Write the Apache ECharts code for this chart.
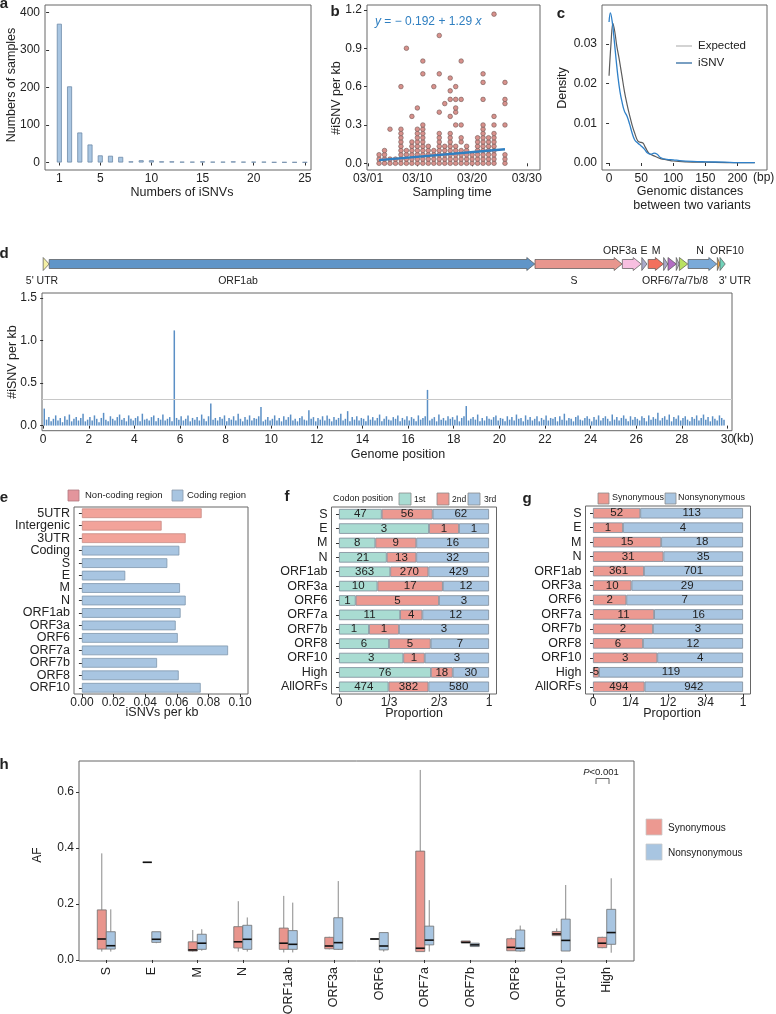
<!DOCTYPE html>
<html lang="en">
<head>
<meta charset="UTF-8">
<title>iSNV summary</title>
<script src="https://cdn.jsdelivr.net/npm/echarts@6/dist/echarts.min.js"></script>
<style>
    body { margin: 0; padding: 0; background: #fff; }
    #main { width: 776px; height: 1014px; }
</style>
</head>
<body>
<div id="main"></div>
<script type="text/javascript">
var FONT = '"Liberation Sans", Arial, sans-serif';

// ---- a: samples by number of iSNVs
var aIsnvs = [1,2,3,4,5,6,7,8,9,10,11,12,13,14,15,16,17,18,19,20,21,22,23,24,25];
var aSamples = [370,203,80,48,19,18,15,3,6,6,3,3,2,2,3,2,2,3,2,2,2,1,1,1,1];

// ---- b: iSNV per kb by sampling day (March)
var bDays = [3,4,5,6,7,8,9,10,11,12,13,14,15,16,17,18,19,20,21,22,23,24,26];
var bRates = [
    [0,0.033,0.067],
    [0,0.033,0.067,0.1],
    [0,0.033,0.267],
    [0,0.033],
    [0,0.033,0.067,0.1,0.133,0.167,0.2,0.233,0.267,0.6],
    [0,0.033,0.067,0.1,0.9],
    [0,0.033,0.067,0.1,0.133,0.167,0.367],
    [0,0.033,0.067,0.1,0.133,0.167,0.2,0.233,0.267,0.433],
    [0,0.033,0.067,0.1,0.133,0.167,0.2,0.233,0.267,0.3,0.7,0.8],
    [0,0.033,0.067,0.1,0.133],
    [0,0.033,0.067,0.1,0.6],
    [0,0.033,0.067,0.1,0.133,0.167,0.2,0.233,0.4,0.7,1.0],
    [0,0.033,0.067,0.1,0.133,0.467],
    [0,0.033,0.067,0.1,0.133,0.167,0.2,0.233,0.367,0.5,0.567,0.667],
    [0,0.033,0.067,0.1,0.133,0.3,0.4,0.433,0.5,0.6],
    [0,0.033,0.067,0.1,0.167,0.2,0.3,0.5,0.8],
    [0,0.033,0.067,0.1,0.133],
    [0,0.033,0.067],
    [0,0.033,0.067,0.1,0.133,0.167,0.2],
    [0,0.033,0.067,0.1,0.133,0.167,0.2,0.233,0.267,0.3,0.5,0.633,0.7],
    [0,0.033,0.067,0.1,0.133,0.167,0.2],
    [0,0.033,0.067,0.1,0.133,0.167,0.2,0.233,0.3,0.367,1.167],
    [0,0.033,0.067,0.3,0.467,0.5,0.633]
];
var bFitDays = [3, 26];
var bFitRates = [0.025, 0.11];

// ---- c: density of distances between variants
var cIsnvX = [0,2,5,8,11,14,17,20,24,28,32,36,40,45,50,55,60,65,70,75,80,90,100,110,130,150,180,200,227];
var cIsnvY = [0.0355,0.0378,0.0355,0.031,0.026,0.0215,0.018,0.0155,0.013,0.0118,0.0098,0.0075,0.0058,0.005,0.0043,0.0035,0.0025,0.0022,0.0025,0.0022,0.0014,0.0009,0.0008,0.0006,0.0004,0.0003,0.0002,0.0001,0.0001];
var cExpX = [0,3,6,9,12,16,20,24,28,32,36,40,45,50,53,57,62,70,80,90,100,120,150,200,227];
var cExpY = [0.022,0.030,0.0352,0.033,0.0295,0.026,0.022,0.018,0.0148,0.012,0.0095,0.0075,0.0055,0.0052,0.005,0.0038,0.0025,0.0018,0.0011,0.0008,0.0005,0.0003,0.0002,0.0001,0.0001];

// ---- d: genome map (kb) and iSNV per kb in 100 bp windows
var geneNames = ['5UTR','ORF1ab','S','ORF3a','E','M','ORF6','ORF7a','ORF7b','ORF8','N','ORF10','3UTR'];
var geneStart = [0.001,0.266,21.563,25.393,26.245,26.523,27.202,27.394,27.756,27.894,28.274,29.558,29.675];
var geneEnd   = [0.265,21.555,25.384,26.220,26.472,27.191,27.387,27.759,27.887,28.259,29.533,29.674,29.903];
var dRate = [
    0.20,0.07,0.10,0.05,0.08,0.12,0.06,0.09,0.04,0.11,0.07,0.13,0.05,0.08,0.10,0.06,0.09,0.14,0.05,0.07,
    0.10,0.06,0.12,0.08,0.04,0.09,0.15,0.07,0.05,0.11,0.08,0.06,0.10,0.13,0.07,0.09,0.05,0.12,0.08,0.06,
    0.09,0.11,0.05,0.14,0.07,0.08,0.06,0.10,0.12,0.05,0.09,0.07,0.13,0.06,0.08,0.10,0.05,1.12,0.09,0.07,
    0.11,0.06,0.08,0.12,0.05,0.09,0.07,0.10,0.06,0.13,0.08,0.05,0.11,0.26,0.07,0.09,0.06,0.10,0.08,0.12,
    0.05,0.09,0.07,0.11,0.06,0.14,0.08,0.05,0.10,0.07,0.12,0.06,0.09,0.08,0.11,0.22,0.05,0.07,0.10,0.06,
    0.08,0.12,0.06,0.09,0.05,0.11,0.07,0.10,0.13,0.06,0.08,0.05,0.09,0.11,0.07,0.06,0.18,0.08,0.10,0.05,
    0.09,0.07,0.11,0.06,0.12,0.08,0.05,0.10,0.07,0.09,0.14,0.06,0.08,0.17,0.05,0.10,0.07,0.11,0.06,0.09,
    0.08,0.05,0.12,0.07,0.10,0.06,0.09,0.13,0.05,0.08,0.11,0.07,0.06,0.10,0.08,0.12,0.05,0.09,0.07,0.11,
    0.06,0.10,0.08,0.05,0.12,0.07,0.09,0.11,0.42,0.06,0.08,0.10,0.05,0.13,0.07,0.09,0.06,0.11,0.08,0.10,
    0.07,0.12,0.05,0.09,0.11,0.23,0.06,0.08,0.10,0.07,0.13,0.05,0.09,0.06,0.11,0.08,0.07,0.10,0.12,0.06,
    0.09,0.08,0.05,0.11,0.07,0.10,0.06,0.13,0.08,0.09,0.05,0.12,0.07,0.10,0.06,0.08,0.11,0.05,0.09,0.07,
    0.12,0.06,0.09,0.08,0.10,0.05,0.11,0.07,0.14,0.06,0.09,0.08,0.05,0.10,0.12,0.07,0.06,0.09,0.11,0.08,
    0.05,0.10,0.07,0.12,0.06,0.09,0.11,0.08,0.05,0.13,0.07,0.10,0.06,0.09,0.12,0.08,0.05,0.11,0.07,0.10,
    0.08,0.06,0.11,0.09,0.05,0.12,0.07,0.10,0.08,0.15,0.06,0.09,0.11,0.07,0.13,0.05,0.10,0.08,0.12,0.06,
    0.09,0.11,0.07,0.05,0.10,0.08,0.12,0.06,0.09,0.13,0.07,0.10,0.05,0.11,0.08,0.06,0.12,0.09,0.07
];
var dThreshold = 0.31;

// ---- e: iSNVs per kb by region
var eRegions = ['5UTR','Intergenic','3UTR','Coding','S','E','M','N','ORF1ab','ORF3a','ORF6','ORF7a','ORF7b','ORF8','ORF10'];
var eRate = [0.0757,0.0504,0.0656,0.0616,0.054,0.0274,0.062,0.0656,0.0624,0.0593,0.0606,0.0924,0.0475,0.0612,0.0751];
var eNonCoding = ['5UTR','Intergenic','3UTR'];

// ---- f: codon position counts
var fGenes = ['S','E','M','N','ORF1ab','ORF3a','ORF6','ORF7a','ORF7b','ORF8','ORF10','High','AllORFs'];
var fFirst  = [47,3,8,21,363,10,1,11,1,6,3,76,474];
var fSecond = [56,1,9,13,270,17,5,4,1,5,1,18,382];
var fThird  = [62,1,16,32,429,12,3,12,3,7,3,30,580];

// ---- g: synonymous / nonsynonymous counts
var gGenes = fGenes;
var gSyn    = [52,1,15,31,361,10,2,11,2,6,3,5,494];
var gNonsyn = [113,4,18,35,701,29,7,16,3,12,4,119,942];

// ---- h: allele frequency boxes [low whisker, q1, median, q3, high whisker]
var hGenes = ['S','E','M','N','ORF1ab','ORF3a','ORF6','ORF7a','ORF7b','ORF8','ORF10','High'];
var hSyn = [
    [0.030,0.039,0.075,0.179,0.381],
    [0.349,0.349,0.349,0.349,0.349],
    [0.030,0.032,0.036,0.065,0.107],
    [0.030,0.043,0.065,0.119,0.210],
    [0.027,0.038,0.060,0.114,0.229],
    [0.038,0.040,0.050,0.081,0.083],
    [0.075,0.075,0.075,0.075,0.075],
    [0.030,0.030,0.042,0.389,0.679],
    [0.061,0.061,0.063,0.068,0.068],
    [0.033,0.033,0.045,0.076,0.080],
    [0.086,0.087,0.093,0.102,0.113],
    [0.042,0.044,0.060,0.081,0.083]
];
var hNonsyn = [
    [0.030,0.039,0.051,0.101,0.181],
    [0.060,0.063,0.074,0.101,0.101],
    [0.033,0.038,0.060,0.092,0.110],
    [0.030,0.038,0.074,0.124,0.152],
    [0.027,0.038,0.056,0.105,0.205],
    [0.036,0.038,0.062,0.151,0.282],
    [0.030,0.036,0.050,0.098,0.098],
    [0.030,0.054,0.071,0.121,0.214],
    [0.048,0.048,0.054,0.060,0.060],
    [0.030,0.032,0.042,0.107,0.123],
    [0.032,0.032,0.070,0.146,0.268],
    [0.026,0.056,0.098,0.181,0.292]
];

// colours
var geneColors = {
    '5UTR': '#f4efa4', 'ORF1ab': '#6095c8', 'S': '#e8968e', 'ORF3a': '#f7bfe0', 'E': '#aaaacb',
    'M': '#f2705d', 'ORF6': '#aaaacb', 'ORF7a': '#b36ec4', 'ORF7b': '#b8b8c8', 'ORF8': '#b9e262',
    'N': '#7aaad9', 'ORF10': '#f2a443', '3UTR': '#72d3ba'
};
var RED = '#ec9991', BLUE = '#a8c5e1', TEAL = '#a9dcd2';

var myChart = echarts.init(document.getElementById('main'), null, {renderer: 'canvas'});

function grid(l, t, w, h, border) {
    return {left: l, top: t, width: w, height: h, show: border !== false, borderColor: '#666', borderWidth: 1,
        backgroundColor: 'transparent', containLabel: false, outerBoundsMode: 'none'};
}
function valAxis(gi, min, max, ticks, fmt, margin) {
    return {
        type: 'value', gridIndex: gi, min: min, max: max,
        splitLine: {show: false},
        axisLine: {show: false},
        axisTick: {show: true, length: 3, lineStyle: {color: '#333'}, customValues: ticks},
        axisLabel: {color: '#222', fontSize: 12, fontFamily: FONT, margin: margin || 5, customValues: ticks, formatter: fmt}
    };
}
function catAxis(gi, data) {
    return {
        type: 'category', gridIndex: gi, data: data, inverse: true,
        axisLine: {show: false},
        axisTick: {show: true, length: 3, alignWithLabel: true, interval: 0, lineStyle: {color: '#333'}},
        axisLabel: {color: '#222', fontSize: 12.5, fontFamily: FONT, margin: 4, interval: 0}
    };
}
function hiddenAxis(gi, min, max) {
    return {type: 'value', gridIndex: gi, min: min, max: max, show: false};
}
function fixed(n) { return function (v) { return v.toFixed(n); }; }

// flatten b
var bPoints = [];
bDays.forEach(function (d, i) {
    bRates[i].forEach(function (r) { bPoints.push([d, r]); });
});

function zip(xs, ys) { return xs.map(function (x, i) { return [x, ys[i]]; }); }

// gene arrows
function renderGene(params, api) {
    var p0 = api.coord([api.value(0), 0.5]);
    var p1 = api.coord([api.value(1), 0.5]);
    var y = p0[1], x0 = p0[0], x1 = p1[0];
    var bh = 4.5, hh = 6.5, head = Math.min(8, x1 - x0);
    var pts;
    if (x1 - x0 <= head + 1) {
        pts = [[x0, y - hh], [x1, y], [x0, y + hh]];
    } else {
        pts = [[x0, y - bh], [x1 - head, y - bh], [x1 - head, y - hh], [x1, y],
               [x1 - head, y + hh], [x1 - head, y + bh], [x0, y + bh]];
    }
    return {type: 'polygon', shape: {points: pts},
        style: {fill: geneColors[geneNames[params.dataIndex]], stroke: '#555', lineWidth: 0.7}};
}

// boxplots
function boxRenderer(offset, fill) {
    return function (params, api) {
        var x = api.value(0);
        var lo = api.coord([x, api.value(1)]);
        var q1 = api.coord([x, api.value(2)]);
        var md = api.coord([x, api.value(3)]);
        var q3 = api.coord([x, api.value(4)]);
        var hi = api.coord([x, api.value(5)]);
        var cx = lo[0] + offset, hw = 4.5;
        return {type: 'group', children: [
            {type: 'line', shape: {x1: cx, y1: hi[1], x2: cx, y2: q3[1]}, style: {stroke: '#8a8a8a', lineWidth: 1}},
            {type: 'line', shape: {x1: cx, y1: q1[1], x2: cx, y2: lo[1]}, style: {stroke: '#8a8a8a', lineWidth: 1}},
            {type: 'rect', shape: {x: cx - hw, y: q3[1], width: hw * 2, height: q1[1] - q3[1]},
                style: {fill: fill, stroke: '#6e6e6e', lineWidth: 0.8}},
            {type: 'line', shape: {x1: cx - hw, y1: md[1], x2: cx + hw, y2: md[1]}, style: {stroke: '#111', lineWidth: 1.6}}
        ]};
    };
}
function boxData(rows) {
    return rows.map(function (r, i) { return [i + 1].concat(r); });
}

// stacked proportions
function share(parts, idx) {
    return parts[idx].map(function (v, i) {
        var tot = 0;
        parts.forEach(function (p) { tot += p[i]; });
        return v / tot;
    });
}
function stackSeries(name, gi, parts, idx, color, stackId) {
    return {
        name: name, type: 'bar', xAxisIndex: gi, yAxisIndex: gi, stack: stackId, barWidth: 10.5,
        data: share(parts, idx),
        itemStyle: {color: color, borderColor: '#7d8c99', borderWidth: 0.8},
        label: {show: true, position: 'inside', color: '#222', fontSize: 11.5, fontFamily: FONT,
            formatter: function (p) { return parts[idx][p.dataIndex]; }}
    };
}

// graphic helpers
function txt(x, y, s, o) {
    o = o || {};
    return {type: 'text', x: x, y: y, rotation: o.rot || 0, silent: true,
        style: {text: s, fill: o.color || '#222', font: (o.weight || 'normal') + ' ' + (o.size || 12.5) + 'px ' + FONT,
            align: o.align || 'center', verticalAlign: 'middle', rich: o.rich}};
}
function sq(x, y, w, h, fill, stroke) {
    return {type: 'rect', shape: {x: x, y: y, width: w, height: h}, silent: true,
        style: {fill: fill, stroke: stroke || '#8a8a8a', lineWidth: 0.8}};
}

var graphics = [
    // panel letters
    txt(4, 4, 'a', {weight: 'bold', size: 15}),
    txt(335, 12, 'b', {weight: 'bold', size: 15}),
    txt(561, 14, 'c', {weight: 'bold', size: 15}),
    txt(4, 254, 'd', {weight: 'bold', size: 15}),
    txt(4, 498, 'e', {weight: 'bold', size: 15}),
    txt(287, 497, 'f', {weight: 'bold', size: 15}),
    txt(527, 499, 'g', {weight: 'bold', size: 15}),
    txt(4, 765, 'h', {weight: 'bold', size: 15}),
    // axis titles
    txt(12, 85, 'Numbers of samples', {rot: Math.PI / 2}),
    txt(182, 193, 'Numbers of iSNVs'),
    txt(337, 98, '#iSNV per kb', {rot: Math.PI / 2}),
    txt(452, 193, 'Sampling time'),
    txt(563, 88, 'Density', {rot: Math.PI / 2}),
    txt(690, 192, 'Genomic distances'),
    txt(692, 206, 'between two variants'),
    txt(753, 178, '(bp)', {align: 'left', size: 12}),
    txt(13, 362, '#iSNV per kb', {rot: Math.PI / 2}),
    txt(398, 455, 'Genome position'),
    txt(733, 439, '(kb)', {align: 'left', size: 12}),
    txt(162, 713, 'iSNVs per kb'),
    txt(414, 714, 'Proportion'),
    txt(672, 714, 'Proportion'),
    txt(38, 855, 'AF', {rot: Math.PI / 2, size: 12}),
    // b equation
    txt(375, 22, '{i|y} = \u2212 0.192 + 1.29 {i|x}', {align: 'left', color: '#2f7fc1', size: 12,
        rich: {i: {fontStyle: 'italic', fill: '#2f7fc1', fontSize: 12, fontFamily: FONT}}}),
    // c legend
    {type: 'line', shape: {x1: 676, y1: 46, x2: 692, y2: 46}, style: {stroke: '#c4c4c4', lineWidth: 1.5}},
    {type: 'line', shape: {x1: 676, y1: 63, x2: 692, y2: 63}, style: {stroke: '#4c7fae', lineWidth: 1.5}},
    txt(698, 46, 'Expected', {align: 'left', size: 11.5}),
    txt(698, 63, 'iSNV', {align: 'left', size: 11.5}),
    // d gene labels
    txt(42, 281, "5' UTR", {size: 10.5}),
    txt(238, 281, 'ORF1ab', {size: 10.5}),
    txt(574, 281, 'S', {size: 10.5}),
    txt(675, 281, 'ORF6/7a/7b/8', {size: 10.5}),
    txt(735, 281, "3' UTR", {size: 10.5}),
    txt(620, 251, 'ORF3a', {size: 10.5}),
    txt(644, 251, 'E', {size: 10.5}),
    txt(656, 251, 'M', {size: 10.5}),
    txt(700, 251, 'N', {size: 10.5}),
    txt(727, 251, 'ORF10', {size: 10.5}),
    // e legend
    sq(68, 490, 11, 11, '#e3959c', '#b07a80'),
    txt(85, 495, 'Non-coding region', {align: 'left', size: 9.5}),
    sq(172, 490, 11, 11, BLUE, '#8a9aab'),
    txt(187, 495, 'Coding region', {align: 'left', size: 9.5}),
    // f legend
    txt(333, 499, 'Codon position', {align: 'left', size: 9}),
    sq(399, 493, 12, 12, TEAL),
    txt(414, 500, '1st', {align: 'left', size: 8.5}),
    sq(437, 493, 12, 12, RED),
    txt(452, 500, '2nd', {align: 'left', size: 8.5}),
    sq(468, 493, 12, 12, BLUE),
    txt(484, 500, '3rd', {align: 'left', size: 8.5}),
    // g legend
    sq(598, 493, 11, 11, RED),
    txt(612, 498, 'Synonymous', {align: 'left', size: 9}),
    sq(665, 493, 11, 11, BLUE),
    txt(678, 498, 'Nonsynonymous', {align: 'left', size: 9}),
    // h legend
    sq(646, 819, 16, 16, RED, '#c9c9c9'),
    txt(668, 828, 'Synonymous', {align: 'left', size: 10}),
    sq(646, 844, 16, 16, BLUE, '#c9c9c9'),
    txt(668, 853, 'Nonsynonymous', {align: 'left', size: 10}),
    // h p-value bracket
    txt(601, 772, '{i|P}<0.001', {size: 9.5, rich: {i: {fontStyle: 'italic', fontSize: 9.5, fontFamily: FONT, fill: '#222'}}}),
    {type: 'polyline', shape: {points: [[596, 784], [596, 778.5], [609, 778.5], [609, 784]]},
        style: {stroke: '#555', lineWidth: 0.9, fill: null}}
];

var dTicks = [0,2,4,6,8,10,12,14,16,18,20,22,24,26,28,30];
var hTicks = [1,2,3,4,5,6,7,8,9,10,11,12];

var hX = valAxis(8, 0.4, 12.6, hTicks, function (v) { return hGenes[v - 1]; }, 6);
hX.axisLabel.rotate = 90;
hX.axisLabel.fontSize = 12.5;

option = {
    animation: false,
    backgroundColor: '#fff',
    textStyle: {fontFamily: FONT},
    grid: [
        grid(45, 5, 266, 165),      // 0 a
        grid(367, 5, 173, 165),     // 1 b
        grid(602, 5, 165, 165),     // 2 c
        grid(42, 254, 690, 20, false), // 3 d map
        grid(42, 293, 690, 137.7),  // 4 d hist
        grid(74, 507, 174, 187),    // 5 e
        grid(331.5, 507, 165, 187), // 6 f
        grid(585.5, 506, 165, 188), // 7 g
        grid(79, 761, 555, 200)     // 8 h
    ],
    xAxis: [
        valAxis(0, -0.4, 25.6, [1,5,10,15,20,25], fixed(0), 3),
        valAxis(1, 0.8, 32.4, [1,10,20,30], function (v) { return '03/' + (v < 10 ? '0' + v : v); }, 3),
        valAxis(2, -11, 246, [0,50,100,150,200], fixed(0), 3),
        hiddenAxis(3, -0.05, 30.2),
        valAxis(4, -0.05, 30.2, dTicks, fixed(0), 3),
        valAxis(5, -0.005, 0.105, [0,0.02,0.04,0.06,0.08,0.1], fixed(2), 3),
        valAxis(6, -0.05, 1.05, [0,1/3,2/3,1], function (v) { return ['0','1/3','2/3','1'][Math.round(v * 3)]; }, 3),
        valAxis(7, -0.05, 1.05, [0,0.25,0.5,0.75,1], function (v) { return ['0','1/4','1/2','3/4','1'][Math.round(v * 4)]; }, 3),
        hX
    ],
    yAxis: [
        valAxis(0, -20, 420, [0,100,200,300,400], fixed(0)),
        valAxis(1, -0.0524, 1.2386, [0,0.3,0.6,0.9,1.2], fixed(1)),
        valAxis(2, -0.00176, 0.0398, [0,0.01,0.02,0.03], fixed(2)),
        hiddenAxis(3, 0, 1),
        valAxis(4, -0.06, 1.56, [0,0.5,1,1.5], fixed(1)),
        catAxis(5, eRegions),
        catAxis(6, fGenes),
        catAxis(7, gGenes),
        valAxis(8, -0.0036, 0.711, [0,0.2,0.4,0.6], fixed(1))
    ],
    series: [
        // a
        {type: 'bar', xAxisIndex: 0, yAxisIndex: 0, barWidth: 5, data: zip(aIsnvs, aSamples),
            itemStyle: {color: '#a9c6e2', borderColor: '#6d8aa8', borderWidth: 0.8}},
        // b
        {type: 'scatter', xAxisIndex: 1, yAxisIndex: 1, symbolSize: 4.6, data: bPoints,
            itemStyle: {color: '#d8918c', borderColor: '#6f5553', borderWidth: 0.6, opacity: 1}},
        {type: 'line', xAxisIndex: 1, yAxisIndex: 1, symbol: 'none', data: zip(bFitDays, bFitRates),
            lineStyle: {color: '#2f7fc1', width: 2.4}},
        // c
        {name: 'Expected', type: 'line', xAxisIndex: 2, yAxisIndex: 2, symbol: 'none', smooth: 0.4,
            data: zip(cExpX, cExpY), lineStyle: {color: '#5c5c5c', width: 1.2}},
        {name: 'iSNV', type: 'line', xAxisIndex: 2, yAxisIndex: 2, symbol: 'none', smooth: 0.4,
            data: zip(cIsnvX, cIsnvY), lineStyle: {color: '#2f80c8', width: 1.3}},
        // d map
        {type: 'custom', xAxisIndex: 3, yAxisIndex: 3, renderItem: renderGene, clip: false,
            data: geneStart.map(function (s, i) { return [s, geneEnd[i]]; }), encode: {x: [0, 1]}},
        // d hist
        {type: 'bar', xAxisIndex: 4, yAxisIndex: 4, barWidth: 1.5,
            data: dRate.map(function (v, i) { return [i * 0.1 + 0.05, v]; }),
            itemStyle: {color: '#5b8fc5'},
            markLine: {silent: true, symbol: 'none', label: {show: false},
                lineStyle: {color: '#c8c8c8', type: 'solid', width: 1}, data: [{yAxis: dThreshold}]}},
        // e
        {name: 'Non-coding region', type: 'bar', xAxisIndex: 5, yAxisIndex: 5, barWidth: 9.7, barGap: '-100%',
            data: eRegions.map(function (r, i) { return eNonCoding.indexOf(r) >= 0 ? eRate[i] : null; }),
            itemStyle: {color: '#f2a39a', borderColor: '#c88a84', borderWidth: 0.8}},
        {name: 'Coding region', type: 'bar', xAxisIndex: 5, yAxisIndex: 5, barWidth: 9.7, barGap: '-100%',
            data: eRegions.map(function (r, i) { return eNonCoding.indexOf(r) < 0 ? eRate[i] : null; }),
            itemStyle: {color: BLUE, borderColor: '#7f97ad', borderWidth: 0.8}},
        // f
        stackSeries('1st', 6, [fFirst, fSecond, fThird], 0, TEAL, 'f'),
        stackSeries('2nd', 6, [fFirst, fSecond, fThird], 1, RED, 'f'),
        stackSeries('3rd', 6, [fFirst, fSecond, fThird], 2, BLUE, 'f'),
        // g
        stackSeries('Synonymous', 7, [gSyn, gNonsyn], 0, RED, 'g'),
        stackSeries('Nonsynonymous', 7, [gSyn, gNonsyn], 1, BLUE, 'g'),
        // h
        {type: 'custom', xAxisIndex: 8, yAxisIndex: 8, renderItem: boxRenderer(-4.5, '#e8958d'),
            data: boxData(hSyn), encode: {x: 0, y: [1, 2, 3, 4, 5]}, clip: false},
        {type: 'custom', xAxisIndex: 8, yAxisIndex: 8, renderItem: boxRenderer(4.5, BLUE),
            data: boxData(hNonsyn), encode: {x: 0, y: [1, 2, 3, 4, 5]}, clip: false}
    ],
    graphic: graphics
};
myChart.setOption(option);
</script>
</body>
</html>
